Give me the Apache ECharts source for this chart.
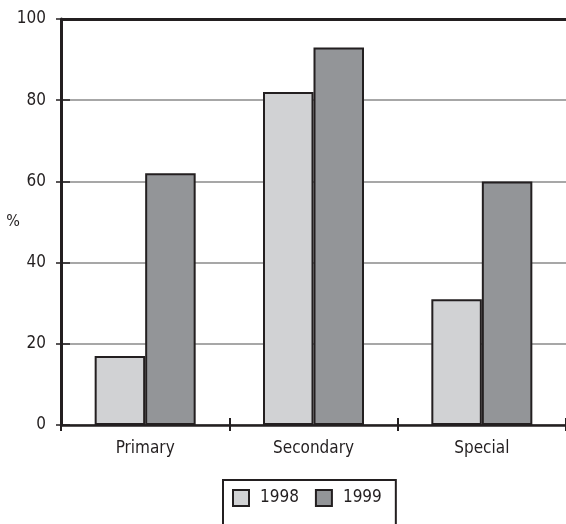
<!DOCTYPE html>
<html>
<head>
<meta charset="utf-8">
<script src="https://cdn.jsdelivr.net/npm/echarts@6/dist/echarts.min.js"></script>
<style>
  html, body { margin: 0; padding: 0; background: #fff; }
  #chart { width: 566px; height: 524px; }
</style>
</head>
<body>
<div id="chart"></div>
<script>
// School types and the share (%) for each year
const categories = ['Primary', 'Secondary', 'Special'];
const years = ['1998', '1999'];
const values1998 = [17, 82, 31];
const values1999 = [62, 93, 60];
const yTicks = { min: 0, max: 100, interval: 20 };

const FONT = '"DejaVu Sans Condensed", "DejaVu Sans", sans-serif';
const INK = '#231f20';

const chart = echarts.init(document.getElementById('chart'), null, { renderer: 'canvas' });

const barStyle = (fill) => ({ color: fill, borderColor: INK, borderWidth: 2 });

chart.setOption({
  animation: false,
  backgroundColor: '#fff',
  textStyle: { fontFamily: FONT, color: INK },
  grid: { left: 61, right: 0, top: 19, bottom: 99, containLabel: false, outerBoundsMode: 'none' },
  legend: {
    data: years,
    left: 223,
    top: 480,
    orient: 'horizontal',
    icon: 'path://M0,0h16v16h-16z',
    itemWidth: 28,
    itemHeight: 16,
    itemGap: 16,
    padding: [9, 14, 30, 9],
    borderColor: INK,
    borderWidth: 2,
    textStyle: { fontFamily: FONT, fontSize: 17, color: INK }
  },
  xAxis: [
    {
      type: 'category',
      data: categories,
      position: 'bottom',
      axisLine: { lineStyle: { color: INK, width: 2.5 } },
      axisTick: { show: true, length: 6, lineStyle: { color: INK, width: 2 } },
      axisLabel: { fontFamily: FONT, fontSize: 17, color: INK, margin: 15 },
      splitLine: { show: false }
    },
    {
      // upward half of the category boundary ticks on the baseline
      type: 'category',
      data: categories,
      position: 'top',
      offset: -406,
      axisLine: { show: false },
      axisTick: { show: true, length: 7, lineStyle: { color: INK, width: 2 } },
      axisLabel: { show: false },
      splitLine: { show: false }
    }
  ],
  yAxis: [
    {
      type: 'value',
      min: yTicks.min,
      max: yTicks.max,
      interval: yTicks.interval,
      name: '%',
      nameLocation: 'middle',
      nameRotate: 0,
      nameGap: 41,
      nameMoveOverlap: false,
      nameTextStyle: { fontFamily: FONT, fontSize: 16, color: INK },
      axisLine: { show: true, lineStyle: { color: INK, width: 3 } },
      axisTick: { show: true, length: 5, lineStyle: { color: INK, width: 1.5 } },
      axisLabel: { fontFamily: FONT, fontSize: 17, color: INK, margin: 15 },
      splitLine: { show: true, lineStyle: { color: '#8a8a8a', width: 1.5 } }
    },
    {
      // inward half of the value ticks on the left axis
      type: 'value',
      min: yTicks.min,
      max: yTicks.max,
      interval: yTicks.interval,
      position: 'right',
      offset: -505,
      axisLine: { show: false },
      axisTick: { show: true, length: 9, lineStyle: { color: INK, width: 1.5 } },
      axisLabel: { show: false },
      splitLine: { show: false }
    }
  ],
  series: [
    {
      name: years[0],
      type: 'bar',
      data: values1998,
      barGap: '0%',
      barCategoryGap: '40%',
      itemStyle: barStyle('#d1d2d4'),
      markLine: {
        silent: true,
        symbol: ['none', 'none'],
        label: { show: false },
        lineStyle: { color: INK, width: 3, type: 'solid' },
        data: [{ yAxis: yTicks.max }]
      }
    },
    {
      name: years[1],
      type: 'bar',
      data: values1999,
      barGap: '0%',
      barCategoryGap: '40%',
      itemStyle: barStyle('#939598')
    }
  ]
});
</script>
</body>
</html>
